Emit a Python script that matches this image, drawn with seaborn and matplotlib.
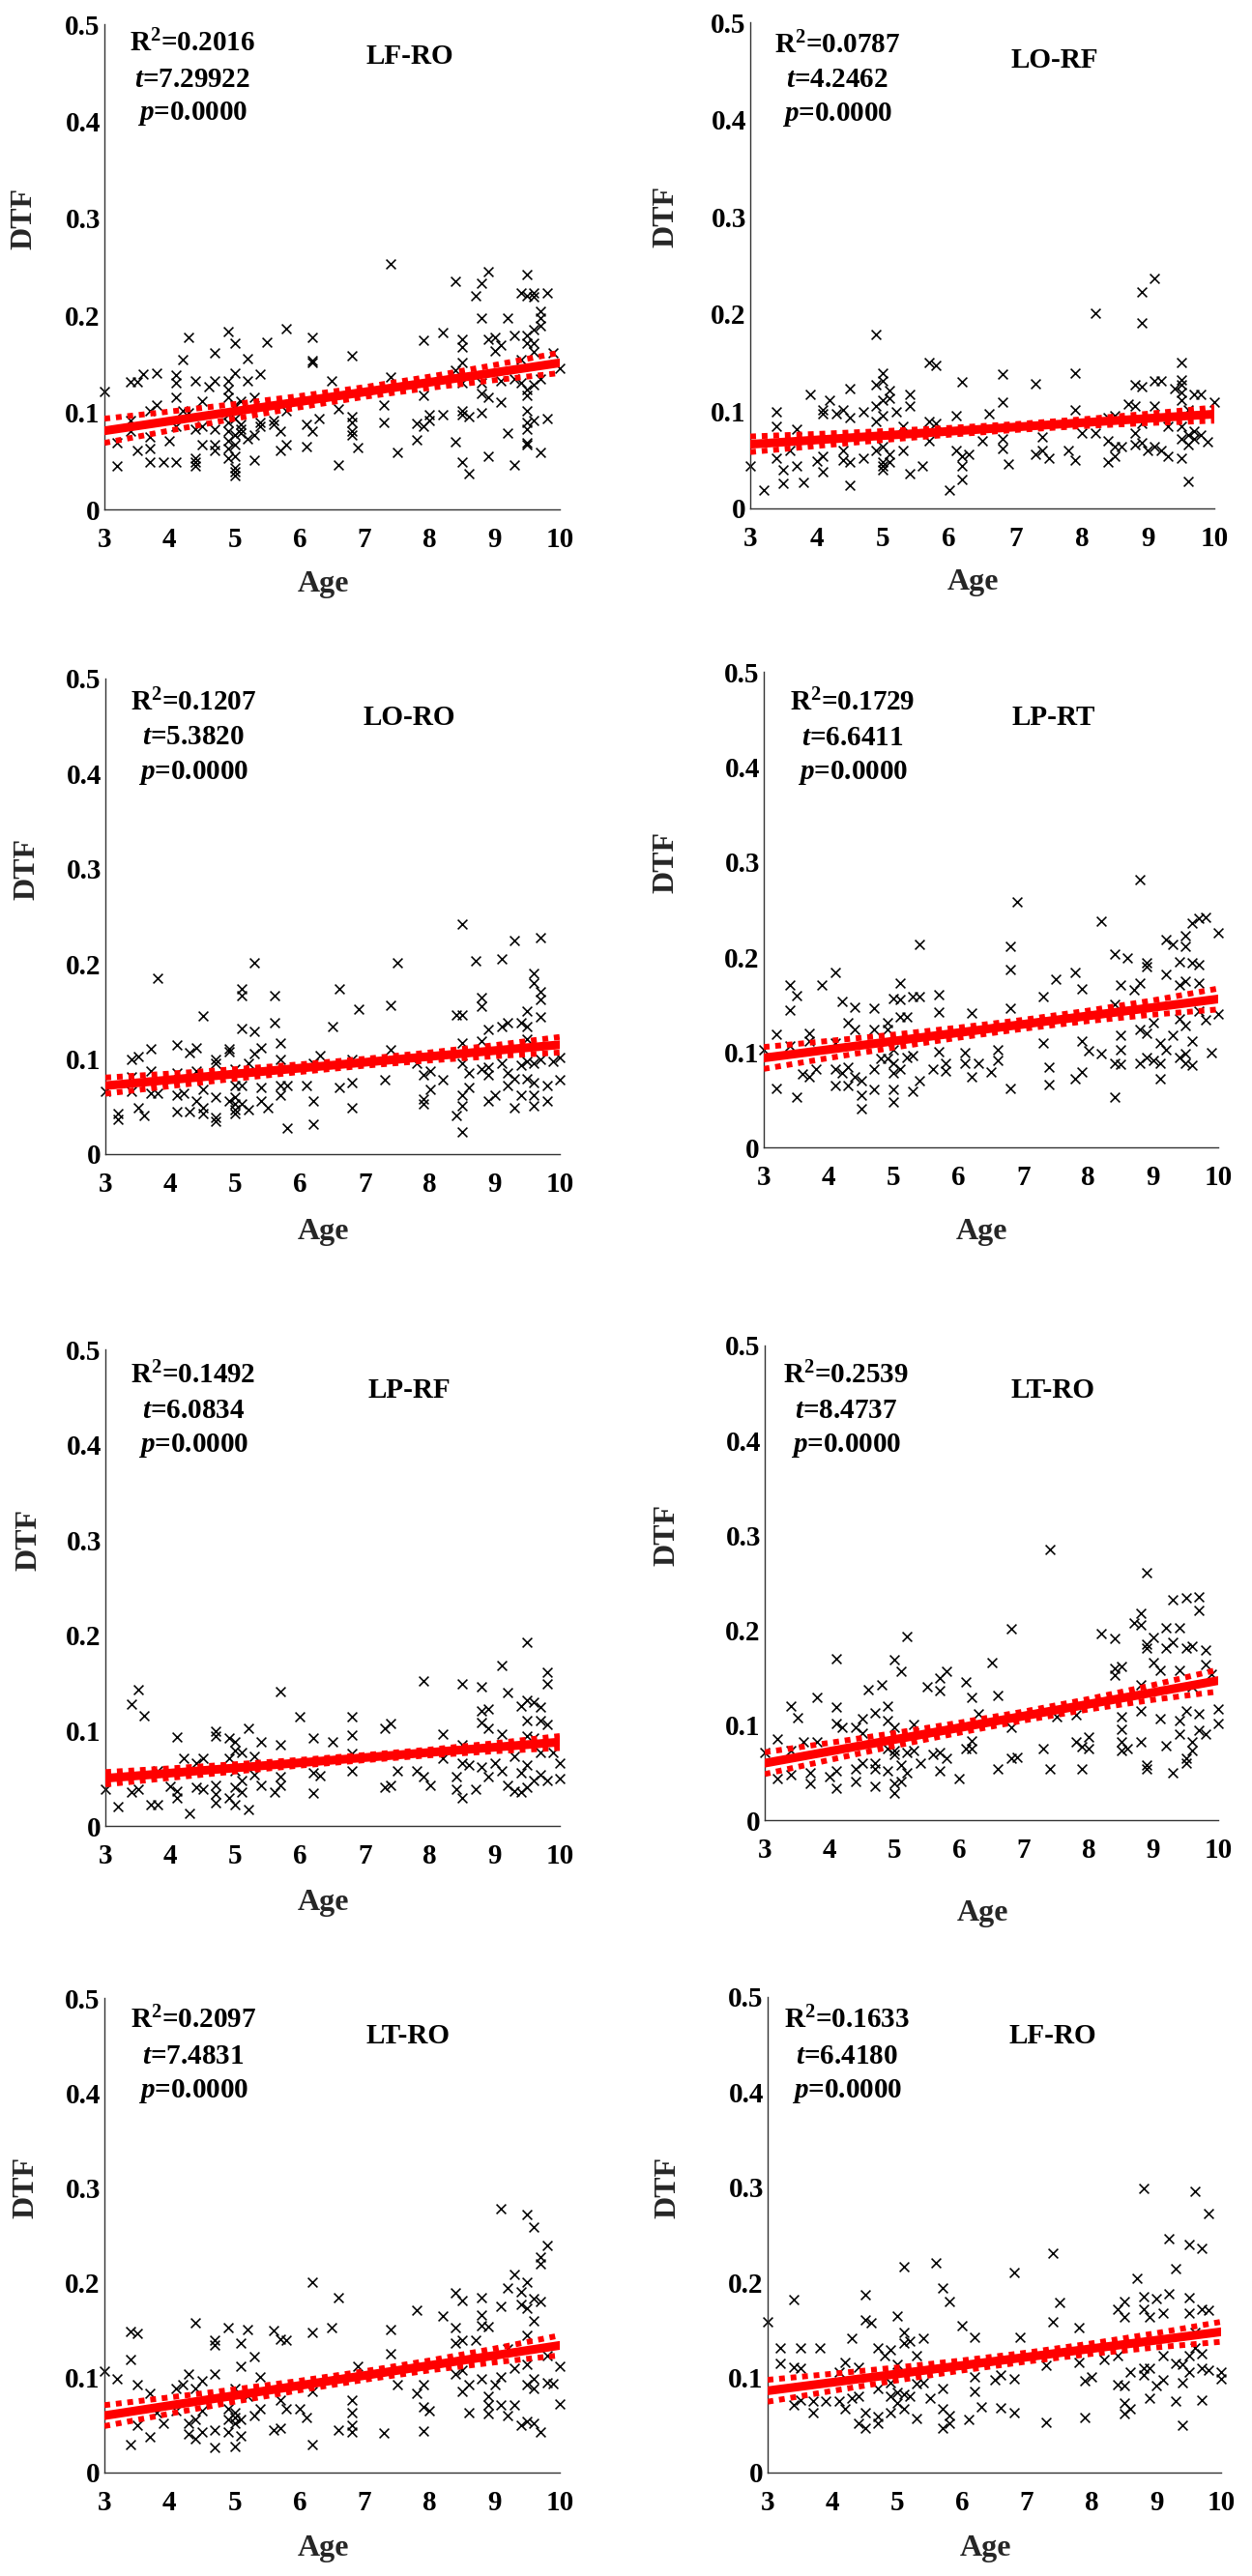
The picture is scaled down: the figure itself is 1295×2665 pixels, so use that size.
import pandas as pd
import matplotlib
matplotlib.use('Agg')
import matplotlib.pyplot as plt
import seaborn as sb

# ---------------- values ----------------
panel_names = ['LF-RO', 'LO-RF', 'LO-RO', 'LP-RT', 'LP-RF', 'LT-RO', 'LT-RO', 'LF-RO']
r_squared = ['0.2016', '0.0787', '0.1207', '0.1729', '0.1492', '0.2539', '0.2097', '0.1633']
t_values = ['7.29922', '4.2462', '5.3820', '6.6411', '6.0834', '8.4737', '7.4831', '6.4180']
p_values = ['0.0000'] * 8

x_ticks = [3, 4, 5, 6, 7, 8, 9, 10]
x_tick_labels = ['3', '4', '5', '6', '7', '8', '9', '10']
y_ticks = [0, 0.1, 0.2, 0.3, 0.4, 0.5]
y_tick_labels = ['0', '0.1', '0.2', '0.3', '0.4', '0.5']

# fitted line (ends) and confidence band per panel
fit_x = [3, 10]
fit_y = [[0.081, 0.151], [0.066, 0.097], [0.072, 0.115], [0.094, 0.156],
         [0.050, 0.088], [0.060, 0.147], [0.060, 0.134], [0.086, 0.148]]
band_x = [3, 4, 5, 6, 7, 8, 9, 10]
band_upper = [
    [0.0935, 0.1008, 0.1085, 0.1168, 0.1260, 0.1368, 0.1488, 0.1615],
    [0.0740, 0.0766, 0.0795, 0.0828, 0.0867, 0.0916, 0.0974, 0.1038],
    [0.0805, 0.0847, 0.0893, 0.0944, 0.1002, 0.1069, 0.1146, 0.1232],
    [0.1055, 0.1119, 0.1185, 0.1259, 0.1341, 0.1438, 0.1546, 0.1670],
    [0.0565, 0.0604, 0.0647, 0.0693, 0.0744, 0.0801, 0.0868, 0.0943],
    [0.0715, 0.0814, 0.0917, 0.1026, 0.1144, 0.1276, 0.1424, 0.1585],
    [0.0710, 0.0792, 0.0876, 0.0967, 0.1068, 0.1181, 0.1307, 0.1445],
    [0.0975, 0.1039, 0.1105, 0.1179, 0.1261, 0.1358, 0.1466, 0.1585]]
band_lower = [
    [0.0685, 0.0812, 0.0935, 0.1052, 0.1160, 0.1252, 0.1332, 0.1405],
    [0.0580, 0.0642, 0.0703, 0.0758, 0.0807, 0.0846, 0.0878, 0.0902],
    [0.0635, 0.0715, 0.0793, 0.0864, 0.0930, 0.0985, 0.1030, 0.1068],
    [0.0825, 0.0939, 0.1049, 0.1153, 0.1247, 0.1328, 0.1396, 0.1450],
    [0.0435, 0.0504, 0.0571, 0.0633, 0.0690, 0.0741, 0.0784, 0.0817],
    [0.0485, 0.0634, 0.0781, 0.0920, 0.1050, 0.1166, 0.1268, 0.1355],
    [0.0490, 0.0620, 0.0746, 0.0867, 0.0978, 0.1077, 0.1161, 0.1235],
    [0.0745, 0.0859, 0.0969, 0.1073, 0.1167, 0.1248, 0.1316, 0.1375]]

# (age, DTF) points
pts_lf_ro = [
    (3.0, .122), (3.2, .045), (3.2, .069), (3.4, .131), (3.5, .131), (3.6, .139), (3.8, .140), (3.4, .092),
    (3.4, .081), (3.5, .061), (3.7, .102), (3.8, .108), (3.7, .075), (3.7, .063), (3.7, .049), (3.9, .049),
    (4.0, .071), (4.1, .049), (4.1, .138), (4.1, .130), (4.1, .116), (4.1, .086), (4.2, .154), (4.2, .102),
    (4.3, .177), (4.3, .100), (4.4, .132), (4.4, .083), (4.4, .053), (4.4, .049), (4.4, .045), (4.5, .112),
    (4.5, .086), (4.5, .067), (4.6, .126), (4.7, .161), (4.7, .132), (4.7, .083), (4.7, .067), (4.7, .061),
    (4.9, .183), (4.9, .132), (4.9, .124), (4.9, .116), (4.9, .098), (4.9, .090), (4.9, .081), (4.9, .071),
    (4.9, .063), (4.9, .053), (5.0, .171), (5.0, .140), (5.0, .108), (5.0, .094), (5.0, .077), (5.0, .067),
    (5.0, .055), (5.0, .043), (5.0, .039), (5.0, .035), (5.1, .112), (5.1, .088), (5.1, .083), (5.1, .079),
    (5.2, .155), (5.2, .132), (5.2, .073), (5.3, .116), (5.3, .077), (5.3, .051), (5.4, .139), (5.4, .090),
    (5.4, .086), (5.5, .172), (5.6, .092), (5.6, .088), (5.7, .081), (5.7, .061), (5.8, .186), (5.8, .102),
    (5.8, .067), (6.1, .065), (6.1, .088), (6.2, .177), (6.2, .153), (6.2, .151), (6.2, .081), (6.3, .094),
    (6.5, .132), (6.6, .104), (6.6, .046), (6.8, .158), (6.8, .096), (6.8, .090), (6.8, .081), (6.8, .077),
    (6.9, .064), (7.3, .108), (7.3, .090), (7.4, .253), (7.4, .136), (7.5, .059), (7.8, .072), (7.8, .089),
    (7.9, .174), (7.9, .118), (7.9, .086), (8.0, .098), (8.0, .092), (8.2, .182), (8.2, .098), (8.4, .235),
    (8.4, .143), (8.4, .070), (8.5, .175), (8.5, .167), (8.5, .151), (8.5, .130), (8.5, .102), (8.5, .098),
    (8.5, .049), (8.6, .096), (8.6, .037), (8.7, .220), (8.8, .233), (8.8, .197), (8.8, .130), (8.8, .120),
    (8.8, .100), (8.9, .245), (8.9, .175), (8.9, .116), (8.9, .055), (9.0, .177), (9.0, .163), (9.1, .169),
    (9.1, .132), (9.1, .111), (9.2, .197), (9.2, .079), (9.3, .179), (9.3, .134), (9.3, .046), (9.4, .223),
    (9.4, .154), (9.4, .130), (9.5, .242), (9.5, .220), (9.5, .179), (9.5, .171), (9.5, .124), (9.5, .118),
    (9.5, .102), (9.5, .090), (9.5, .083), (9.5, .069), (9.5, .067), (9.6, .223), (9.6, .219), (9.6, .185),
    (9.6, .171), (9.6, .162), (9.6, .128), (9.6, .092), (9.7, .204), (9.7, .197), (9.7, .189), (9.7, .134),
    (9.7, .059), (9.8, .223), (9.8, .094), (9.9, .161), (10.0, .145)]

pts_lo_rf = [
    (3.0, .044), (3.2, .019), (3.4, .099), (3.4, .084), (3.4, .052), (3.5, .040), (3.5, .026), (3.6, .060),
    (3.7, .082), (3.7, .044), (3.8, .027), (3.9, .117), (4.0, .049), (4.1, .101), (4.1, .097), (4.1, .054),
    (4.1, .038), (4.2, .111), (4.3, .097), (4.4, .101), (4.4, .060), (4.4, .050), (4.5, .123), (4.5, .093),
    (4.5, .048), (4.5, .024), (4.7, .099), (4.7, .052), (4.9, .179), (4.9, .127), (4.9, .105), (4.9, .089),
    (4.9, .060), (5.0, .139), (5.0, .131), (5.0, .111), (5.0, .095), (5.0, .064), (5.0, .048), (5.0, .044),
    (5.0, .040), (5.1, .121), (5.1, .113), (5.1, .056), (5.1, .048), (5.2, .099), (5.3, .084), (5.3, .060),
    (5.4, .117), (5.4, .105), (5.4, .036), (5.6, .044), (5.7, .150), (5.7, .089), (5.7, .070), (5.8, .147),
    (5.8, .087), (6.0, .019), (6.1, .095), (6.1, .060), (6.2, .130), (6.2, .054), (6.2, .044), (6.2, .030),
    (6.3, .056), (6.5, .070), (6.6, .097), (6.8, .138), (6.8, .109), (6.8, .072), (6.8, .062), (6.9, .046),
    (7.3, .128), (7.3, .056), (7.4, .074), (7.4, .060), (7.5, .052), (7.8, .060), (7.9, .139), (7.9, .101),
    (7.9, .050), (8.0, .078), (8.2, .201), (8.2, .078), (8.4, .093), (8.4, .070), (8.4, .048), (8.5, .095),
    (8.5, .064), (8.5, .054), (8.6, .064), (8.7, .107), (8.8, .127), (8.8, .105), (8.8, .078), (8.8, .066),
    (8.9, .223), (8.9, .191), (8.9, .125), (8.9, .087), (8.9, .068), (9.0, .060), (9.1, .237), (9.1, .131),
    (9.1, .105), (9.1, .064), (9.2, .131), (9.2, .060), (9.3, .054), (9.3, .084), (9.4, .123), (9.5, .150),
    (9.5, .132), (9.5, .127), (9.5, .119), (9.5, .111), (9.5, .084), (9.5, .072), (9.5, .052), (9.6, .101),
    (9.6, .076), (9.6, .066), (9.6, .028), (9.7, .117), (9.7, .080), (9.7, .072), (9.8, .117), (9.8, .076),
    (9.9, .069), (10.0, .109)]

pts_lo_ro = [
    (3.0, .066), (3.2, .043), (3.2, .037), (3.4, .100), (3.4, .081), (3.4, .066), (3.5, .103), (3.5, .049),
    (3.6, .041), (3.7, .111), (3.7, .087), (3.7, .064), (3.8, .185), (3.8, .064), (4.1, .115), (4.1, .085),
    (4.1, .062), (4.1, .045), (4.2, .064), (4.3, .107), (4.3, .045), (4.4, .112), (4.4, .087), (4.4, .056),
    (4.5, .145), (4.5, .068), (4.5, .049), (4.5, .043), (4.7, .100), (4.7, .096), (4.7, .060), (4.7, .039),
    (4.7, .035), (4.9, .111), (4.9, .108), (4.9, .056), (5.0, .089), (5.0, .072), (5.0, .060), (5.0, .053),
    (5.0, .047), (5.0, .043), (5.1, .174), (5.1, .167), (5.1, .132), (5.1, .072), (5.1, .053), (5.2, .096),
    (5.2, .047), (5.3, .201), (5.3, .129), (5.3, .106), (5.4, .112), (5.4, .070), (5.4, .056), (5.5, .049),
    (5.6, .167), (5.6, .138), (5.7, .117), (5.7, .100), (5.7, .072), (5.7, .062), (5.8, .027), (5.8, .072),
    (6.1, .072), (6.2, .096), (6.2, .056), (6.2, .032), (6.3, .104), (6.5, .134), (6.6, .174), (6.6, .070),
    (6.8, .100), (6.8, .075), (6.8, .049), (6.9, .152), (7.3, .078), (7.4, .156), (7.4, .110), (7.5, .201),
    (7.8, .096), (7.9, .083), (7.9, .058), (7.9, .053), (8.0, .087), (8.0, .068), (8.2, .078), (8.4, .146),
    (8.4, .041), (8.5, .242), (8.5, .146), (8.5, .117), (8.5, .096), (8.5, .062), (8.5, .051), (8.5, .023),
    (8.6, .085), (8.6, .070), (8.7, .203), (8.8, .165), (8.8, .155), (8.8, .119), (8.8, .089), (8.9, .131),
    (8.9, .091), (8.9, .083), (8.9, .056), (9.0, .062), (9.1, .205), (9.1, .134), (9.1, .096), (9.2, .138),
    (9.2, .085), (9.2, .072), (9.3, .225), (9.3, .079), (9.3, .049), (9.4, .138), (9.4, .094), (9.4, .062),
    (9.5, .150), (9.5, .134), (9.5, .121), (9.5, .098), (9.5, .079), (9.6, .190), (9.6, .180), (9.6, .096),
    (9.6, .075), (9.6, .062), (9.6, .051), (9.7, .228), (9.7, .171), (9.7, .163), (9.7, .144), (9.7, .100),
    (9.8, .072), (9.8, .056), (9.9, .098), (10.0, .102), (10.0, .078)]

pts_lp_rt = [
    (3.0, .103), (3.2, .119), (3.2, .062), (3.4, .171), (3.4, .144), (3.4, .107), (3.5, .160), (3.5, .053),
    (3.6, .077), (3.7, .120), (3.7, .112), (3.7, .074), (3.8, .082), (3.9, .171), (4.1, .184), (4.1, .110),
    (4.1, .082), (4.1, .065), (4.2, .153), (4.2, .078), (4.3, .131), (4.3, .084), (4.3, .065), (4.4, .147),
    (4.4, .124), (4.4, .074), (4.5, .070), (4.5, .055), (4.5, .041), (4.7, .146), (4.7, .124), (4.7, .082),
    (4.7, .061), (4.8, .093), (4.9, .131), (4.9, .124), (4.9, .093), (5.0, .156), (5.0, .103), (5.0, .088),
    (5.0, .078), (5.0, .061), (5.0, .048), (5.1, .173), (5.1, .155), (5.1, .137), (5.1, .082), (5.2, .137),
    (5.2, .095), (5.3, .159), (5.3, .097), (5.3, .059), (5.4, .213), (5.4, .159), (5.4, .070), (5.6, .082),
    (5.7, .161), (5.7, .142), (5.7, .101), (5.8, .088), (5.8, .080), (6.1, .100), (6.1, .088), (6.2, .141),
    (6.2, .074), (6.3, .088), (6.5, .079), (6.6, .103), (6.6, .091), (6.8, .211), (6.8, .187), (6.8, .146),
    (6.8, .062), (6.9, .258), (7.3, .159), (7.3, .110), (7.4, .084), (7.4, .066), (7.5, .177), (7.8, .184),
    (7.8, .072), (7.9, .167), (7.9, .112), (7.9, .079), (8.0, .102), (8.2, .238), (8.2, .099), (8.4, .203),
    (8.4, .150), (8.4, .088), (8.4, .053), (8.5, .171), (8.5, .118), (8.5, .103), (8.5, .087), (8.6, .199),
    (8.7, .166), (8.8, .282), (8.8, .173), (8.8, .124), (8.8, .088), (8.9, .194), (8.9, .190), (8.9, .120),
    (8.9, .095), (9.0, .131), (9.0, .091), (9.1, .110), (9.1, .088), (9.1, .072), (9.2, .219), (9.2, .182),
    (9.2, .103), (9.3, .213), (9.3, .118), (9.4, .195), (9.4, .171), (9.4, .135), (9.4, .095), (9.5, .223),
    (9.5, .211), (9.5, .175), (9.5, .128), (9.5, .099), (9.5, .088), (9.6, .236), (9.6, .194), (9.6, .112),
    (9.6, .086), (9.7, .241), (9.7, .192), (9.7, .173), (9.7, .143), (9.8, .242), (9.8, .134), (9.9, .100),
    (10.0, .226), (10.0, .140)]

pts_lp_rf = [
    (3.0, .039), (3.2, .020), (3.4, .128), (3.4, .035), (3.5, .143), (3.5, .039), (3.6, .116), (3.7, .022),
    (3.8, .022), (3.8, .058), (4.0, .042), (4.1, .093), (4.1, .037), (4.1, .029), (4.2, .071), (4.3, .013),
    (4.4, .066), (4.4, .041), (4.5, .071), (4.5, .039), (4.7, .099), (4.7, .094), (4.7, .043), (4.7, .033),
    (4.7, .024), (4.9, .092), (4.9, .071), (4.9, .029), (5.0, .088), (5.0, .079), (5.0, .058), (5.0, .041),
    (5.0, .022), (5.1, .077), (5.1, .048), (5.1, .035), (5.2, .102), (5.2, .017), (5.3, .073), (5.3, .054),
    (5.4, .088), (5.4, .043), (5.6, .035), (5.7, .141), (5.7, .085), (5.7, .052), (5.7, .043), (6.0, .115),
    (6.2, .092), (6.2, .056), (6.2, .034), (6.3, .053), (6.5, .088), (6.8, .115), (6.8, .095), (6.8, .076),
    (6.8, .058), (7.3, .102), (7.3, .041), (7.4, .108), (7.4, .043), (7.5, .058), (7.8, .058), (7.9, .152),
    (7.9, .052), (8.0, .043), (8.2, .096), (8.2, .071), (8.4, .052), (8.4, .039), (8.5, .149), (8.5, .085),
    (8.5, .066), (8.5, .029), (8.6, .064), (8.7, .039), (8.8, .146), (8.8, .121), (8.8, .109), (8.8, .062),
    (8.9, .123), (8.9, .102), (8.9, .052), (9.0, .066), (9.1, .168), (9.1, .096), (9.1, .058), (9.2, .140),
    (9.2, .043), (9.3, .073), (9.3, .037), (9.4, .126), (9.4, .056), (9.4, .035), (9.5, .193), (9.5, .132),
    (9.5, .111), (9.5, .094), (9.5, .064), (9.5, .041), (9.6, .130), (9.6, .092), (9.6, .048), (9.7, .125),
    (9.7, .111), (9.7, .077), (9.7, .054), (9.8, .161), (9.8, .149), (9.8, .106), (9.8, .048), (9.9, .077),
    (10.0, .066), (10.0, .050)]

pts_lt_ro_a = [
    (3.0, .071), (3.2, .086), (3.2, .044), (3.4, .120), (3.4, .073), (3.4, .048), (3.5, .108), (3.6, .082),
    (3.7, .050), (3.7, .039), (3.8, .129), (3.8, .082), (4.0, .046), (4.1, .170), (4.1, .119), (4.1, .102),
    (4.1, .052), (4.1, .034), (4.2, .098), (4.4, .098), (4.4, .054), (4.4, .041), (4.5, .107), (4.5, .092),
    (4.5, .060), (4.6, .137), (4.7, .113), (4.7, .060), (4.7, .054), (4.7, .036), (4.8, .143), (4.9, .120),
    (4.9, .105), (4.9, .075), (4.9, .052), (5.0, .169), (5.0, .098), (5.0, .073), (5.0, .069), (5.0, .039),
    (5.0, .029), (5.1, .157), (5.1, .058), (5.1, .041), (5.2, .193), (5.2, .071), (5.2, .050), (5.3, .101),
    (5.3, .073), (5.4, .060), (5.5, .141), (5.6, .069), (5.7, .150), (5.7, .136), (5.7, .071), (5.7, .052),
    (5.8, .157), (5.8, .065), (6.0, .044), (6.1, .146), (6.1, .075), (6.2, .129), (6.2, .084), (6.2, .075),
    (6.3, .112), (6.5, .166), (6.6, .131), (6.6, .054), (6.8, .202), (6.8, .098), (6.8, .065), (6.9, .066),
    (7.3, .075), (7.4, .285), (7.4, .054), (7.5, .109), (7.8, .111), (7.8, .082), (7.9, .077), (7.9, .054),
    (8.0, .088), (8.0, .075), (8.2, .197), (8.4, .191), (8.4, .160), (8.4, .153), (8.5, .162), (8.5, .109),
    (8.5, .096), (8.5, .082), (8.5, .073), (8.6, .075), (8.7, .208), (8.8, .218), (8.8, .206), (8.8, .143),
    (8.8, .115), (8.8, .082), (8.9, .261), (8.9, .185), (8.9, .181), (8.9, .058), (8.9, .054), (9.0, .192),
    (9.0, .166), (9.1, .158), (9.1, .107), (9.2, .203), (9.2, .181), (9.2, .078), (9.3, .232), (9.3, .187),
    (9.3, .050), (9.4, .203), (9.4, .158), (9.4, .105), (9.4, .091), (9.5, .234), (9.5, .181), (9.5, .115),
    (9.5, .065), (9.5, .060), (9.6, .183), (9.6, .141), (9.6, .082), (9.6, .073), (9.7, .235), (9.7, .221),
    (9.7, .112), (9.7, .095), (9.8, .179), (9.8, .164), (9.8, .091), (9.9, .154), (10.0, .117), (10.0, .102)]

pts_lt_ro_b = [
    (3.0, .107), (3.2, .099), (3.4, .149), (3.4, .119), (3.4, .030), (3.5, .147), (3.5, .093), (3.5, .050),
    (3.7, .084), (3.7, .038), (3.8, .063), (3.9, .052), (4.1, .089), (4.1, .065), (4.2, .093), (4.3, .104),
    (4.3, .052), (4.3, .041), (4.4, .158), (4.4, .089), (4.4, .056), (4.4, .036), (4.5, .097), (4.5, .065),
    (4.5, .043), (4.7, .140), (4.7, .134), (4.7, .104), (4.7, .045), (4.7, .026), (4.9, .153), (4.9, .067),
    (4.9, .056), (4.9, .043), (5.0, .089), (5.0, .063), (5.0, .058), (5.0, .052), (5.0, .028), (5.1, .136),
    (5.1, .112), (5.1, .056), (5.1, .039), (5.2, .151), (5.2, .080), (5.3, .122), (5.3, .060), (5.4, .101),
    (5.4, .067), (5.6, .150), (5.6, .045), (5.7, .141), (5.7, .076), (5.7, .047), (5.8, .140), (5.8, .067),
    (6.0, .067), (6.1, .058), (6.2, .201), (6.2, .148), (6.2, .086), (6.2, .030), (6.5, .153), (6.6, .184),
    (6.6, .045), (6.8, .076), (6.8, .063), (6.8, .050), (6.8, .043), (6.9, .112), (7.3, .042), (7.4, .151),
    (7.4, .125), (7.5, .093), (7.8, .171), (7.8, .083), (7.9, .093), (7.9, .069), (7.9, .044), (8.0, .065),
    (8.2, .165), (8.4, .189), (8.4, .153), (8.4, .136), (8.4, .104), (8.5, .181), (8.5, .140), (8.5, .108),
    (8.5, .086), (8.6, .093), (8.6, .063), (8.7, .140), (8.8, .184), (8.8, .166), (8.8, .155), (8.8, .099),
    (8.9, .154), (8.9, .080), (8.9, .071), (8.9, .062), (9.0, .093), (9.1, .278), (9.1, .175), (9.1, .101),
    (9.1, .071), (9.2, .194), (9.2, .130), (9.2, .060), (9.3, .209), (9.3, .110), (9.3, .071), (9.4, .190),
    (9.4, .177), (9.4, .050), (9.5, .272), (9.5, .201), (9.5, .173), (9.5, .145), (9.5, .114), (9.5, .093),
    (9.5, .054), (9.6, .259), (9.6, .183), (9.6, .160), (9.6, .099), (9.6, .089), (9.6, .052), (9.7, .227),
    (9.7, .220), (9.7, .180), (9.7, .043), (9.8, .239), (9.8, .123), (9.8, .095), (9.9, .094), (10.0, .112),
    (10.0, .072)]

pts_lf_ro_b = [
    (3.0, .159), (3.2, .131), (3.2, .115), (3.4, .182), (3.4, .111), (3.4, .071), (3.5, .131), (3.5, .110),
    (3.5, .076), (3.7, .075), (3.7, .063), (3.8, .131), (3.9, .075), (4.1, .106), (4.1, .075), (4.2, .116),
    (4.2, .067), (4.3, .141), (4.3, .078), (4.4, .111), (4.4, .080), (4.4, .052), (4.5, .187), (4.5, .161),
    (4.5, .063), (4.5, .047), (4.6, .158), (4.7, .131), (4.7, .088), (4.7, .059), (4.7, .052), (4.8, .123),
    (4.9, .129), (4.9, .095), (4.9, .080), (4.9, .063), (5.0, .165), (5.0, .114), (5.0, .084), (5.0, .073),
    (5.1, .216), (5.1, .147), (5.1, .136), (5.1, .082), (5.1, .067), (5.2, .138), (5.2, .080), (5.3, .123),
    (5.3, .093), (5.3, .057), (5.4, .141), (5.4, .095), (5.5, .078), (5.6, .221), (5.7, .194), (5.7, .088),
    (5.7, .067), (5.7, .047), (5.8, .180), (5.8, .060), (5.8, .052), (6.0, .154), (6.1, .056), (6.2, .142),
    (6.2, .101), (6.2, .085), (6.3, .069), (6.5, .098), (6.6, .068), (6.6, .103), (6.8, .210), (6.8, .099),
    (6.8, .063), (6.9, .142), (7.3, .053), (7.3, .113), (7.4, .231), (7.4, .159), (7.5, .179), (7.8, .152),
    (7.8, .116), (7.9, .097), (7.9, .058), (8.0, .101), (8.2, .119), (8.4, .172), (8.4, .123), (8.4, .092),
    (8.5, .180), (8.5, .164), (8.5, .091), (8.5, .073), (8.5, .062), (8.6, .106), (8.6, .067), (8.7, .204),
    (8.8, .299), (8.8, .185), (8.8, .172), (8.8, .110), (8.8, .103), (8.9, .164), (8.9, .110), (8.9, .078),
    (9.0, .183), (9.0, .091), (9.1, .123), (9.1, .098), (9.1, .168), (9.2, .246), (9.2, .188), (9.3, .214),
    (9.3, .115), (9.3, .075), (9.4, .095), (9.4, .050), (9.4, .114), (9.5, .240), (9.5, .184), (9.5, .168),
    (9.5, .123), (9.5, .106), (9.6, .296), (9.6, .147), (9.6, .131), (9.7, .236), (9.7, .172), (9.7, .125),
    (9.7, .110), (9.7, .076), (9.8, .272), (9.8, .171), (9.8, .108), (10.0, .106), (10.0, .099)]

panel_points = [pts_lf_ro, pts_lo_rf, pts_lo_ro, pts_lp_rt,
                pts_lp_rf, pts_lt_ro_a, pts_lt_ro_b, pts_lf_ro_b]

# ---------------- layout (pixels in a 1295 x 2665 canvas) ----------------
W, H = 1295, 2665
# axes box: left, top, right, bottom
boxes = [(108, 25, 579, 527), (776, 23, 1256, 526),
         (109, 702, 579, 1194), (790, 695, 1260, 1187),
         (109, 1396, 579, 1889), (791, 1392, 1260, 1883),
         (108, 2067, 579, 2558), (794, 2066, 1263, 2558)]
ylab_dx = [-69, -73, -67, -87, -65, -87, -67, -89]      # right edge of "DTF"
xlab_dy = [63, 62, 66, 73, 65, 82, 64, 64]              # top of "Age" below axis
stat_dx = [91, 90, 91, 92, 91, 84, 92, 82]              # centre of stats block
stat_dy = [(28, 65, 99), (32, 67, 102), (33, 68, 104), (40, 76, 111),
           (35, 71, 106), (39, 75, 110), (31, 68, 103), (32, 69, 104)]
name_pos = [(316, 41), (315, 47), (314, 48), (300, 55),
            (314, 50), (298, 54), (314, 47), (295, 48)]

font_colour = '#000000'
red = '#ff0000'

sb.set_theme(style='white')
plt.rcParams['font.family'] = ['Liberation Serif', 'DejaVu Serif']
plt.rcParams.update({'font.weight': 'bold', 'axes.labelweight': 'bold',
                     'mathtext.fontset': 'custom',
                     'mathtext.rm': 'Liberation Serif:bold',
                     'mathtext.bf': 'Liberation Serif:bold',
                     'mathtext.it': 'Liberation Serif:italic',
                     'text.color': font_colour})

fig = plt.figure(figsize=(W / 100, H / 100), dpi=100)
fig.patch.set_facecolor('white')

for i in range(8):
    l, t, r, b = boxes[i]
    wpx, hpx = r - l, b - t
    ax = fig.add_axes([l / W, 1 - b / H, wpx / W, hpx / H])
    ax.set_facecolor('white')

    df = pd.DataFrame(panel_points[i], columns=['Age', 'DTF'])
    sb.scatterplot(data=df, x='Age', y='DTF', marker='x', color='black',
                   s=50, linewidth=1.15, ax=ax, clip_on=False, zorder=2)

    fit = pd.DataFrame({'Age': fit_x, 'DTF': fit_y[i]})
    sb.lineplot(data=fit, x='Age', y='DTF', color=red, linewidth=6.5,
                ax=ax, zorder=3)
    for bound in (band_upper[i], band_lower[i]):
        bd = pd.DataFrame({'Age': band_x, 'DTF': bound})
        sb.lineplot(data=bd, x='Age', y='DTF', color=red, linewidth=4.3,
                    linestyle=(0, (1, 1)), ax=ax, zorder=4)

    ax.set_xlim(3, 10)
    ax.set_ylim(0, 0.5)
    ax.set_xticks(x_ticks, labels=x_tick_labels)
    ax.set_yticks(y_ticks, labels=y_tick_labels)
    ax.tick_params(axis='both', direction='in', length=3.6, width=0.9,
                   colors='#222222', labelcolor='black', labelsize=21)
    ax.tick_params(axis='x', pad=13)
    ax.tick_params(axis='y', pad=3)
    for lab in ax.get_xticklabels() + ax.get_yticklabels():
        lab.set_fontweight('bold')
    ax.spines['top'].set_visible(False)
    ax.spines['right'].set_visible(False)
    for s in ('left', 'bottom'):
        ax.spines[s].set_color('#333333')
        ax.spines[s].set_linewidth(1.0)

    ax.set_xlabel('Age', fontsize=23, fontweight='bold')
    ax.set_ylabel('DTF', fontsize=23, fontweight='bold')
    ax.xaxis.set_label_coords(0.48, -xlab_dy[i] / hpx)
    ax.yaxis.set_label_coords(ylab_dx[i] / wpx, 0.60)

    cx = stat_dx[i] / wpx
    lines = ['R$^{\\mathbf{2}}$=' + r_squared[i],
             '$t$=' + t_values[i],
             '$p$=' + p_values[i]]
    for txt, dy in zip(lines, stat_dy[i]):
        ax.text(cx, 1 - dy / hpx, txt, transform=ax.transAxes, ha='center',
                va='baseline', fontsize=21, fontweight='bold')
    nx, ny = name_pos[i]
    ax.text(nx / wpx, 1 - ny / hpx, panel_names[i], transform=ax.transAxes,
            ha='center', va='baseline', fontsize=21, fontweight='bold')

plt.savefig('out.png', dpi=100, facecolor='white')
